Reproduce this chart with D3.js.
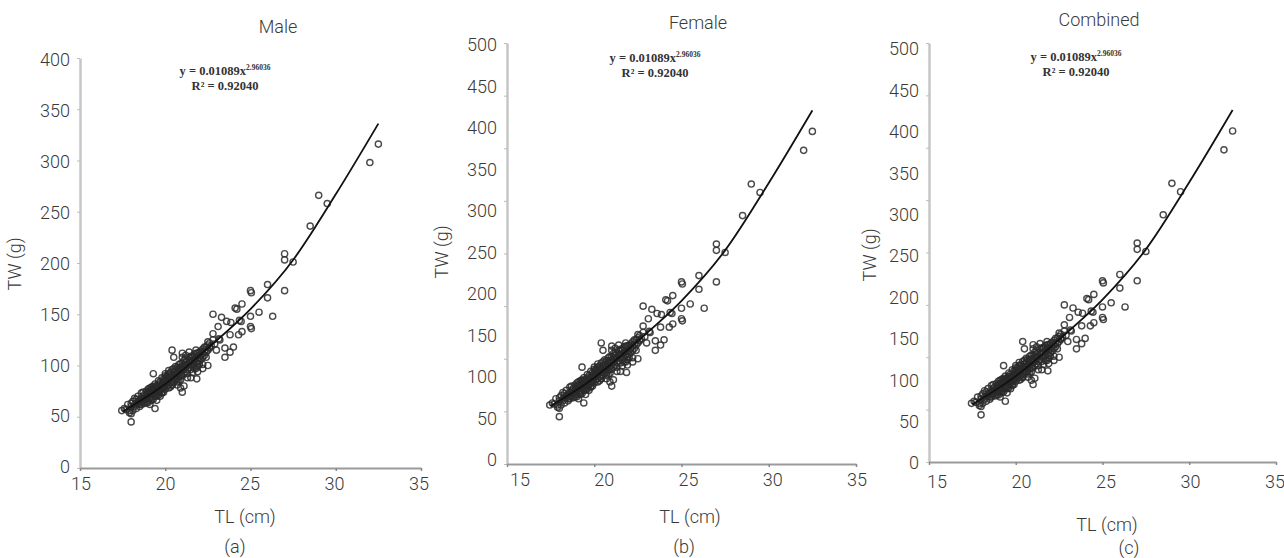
<!doctype html>
<html>
<head>
<meta charset="utf-8">
<script src="https://cdnjs.cloudflare.com/ajax/libs/d3/7.8.5/d3.min.js"></script>
<style>
body { margin: 0; background: #fff; }
svg text { font-family: Roboto, "Noto Sans", sans-serif; font-weight: 300; fill: #3a3a3a; }
svg text.eq { font-family: "Liberation Serif", "DejaVu Serif", serif; font-weight: bold; fill: #333; }
</style>
</head>
<body>
<svg id="chart" width="1284" height="558"></svg>
<script>
// total length (cm) and total weight (g) of each fish
const tlValues = [
  17.7,17.8,17.9,18.0,18.1,18.1,18.2,18.3,18.3,18.4,18.4,18.5,18.5,
  18.6,18.6,18.6,18.7,18.7,18.8,18.8,18.8,18.9,18.9,18.9,
  19.0,19.0,19.0,19.1,19.1,19.1,19.2,19.2,19.2,19.3,19.3,19.3,19.4,19.4,19.4,19.5,19.5,19.5,
  19.6,19.6,19.6,19.7,19.7,19.7,19.8,19.8,19.8,19.9,19.9,19.9,
  20.0,20.0,20.0,20.0,20.1,20.1,20.1,20.2,20.2,20.2,20.3,20.3,20.3,20.4,20.4,20.4,20.5,20.5,20.5,
  20.6,20.6,20.6,20.7,20.7,20.7,20.8,20.8,20.8,20.9,20.9,20.9,
  21.0,21.0,21.0,21.0,21.1,21.1,21.1,21.2,21.2,21.2,21.3,21.3,21.3,21.4,21.4,21.4,21.5,21.5,21.5,
  21.6,21.6,21.6,21.7,21.7,21.7,21.8,21.8,21.8,21.9,21.9,21.9,
  22.0,22.0,22.0,22.1,22.1,22.2,22.2,22.2,22.3,22.3,22.4,22.4,22.5,22.5,22.6,22.6,22.7,22.8,22.9,
  21.1,21.5,20.9,22.2,21.9,
  17.6,17.9,18.0,18.2,18.2,18.4,18.5,18.7,18.7,18.9,
  19.0,19.1,19.2,19.3,19.4,19.5,19.6,19.7,19.8,19.9,
  19.0,19.2,19.4,19.6,19.8,20.0,20.2,20.4,20.6,20.8,
  20.0,20.1,20.2,20.3,20.4,20.5,20.6,20.7,20.8,20.9,
  21.0,21.1,21.2,21.3,21.4,21.5,21.6,21.7,21.8,21.9,
  21.0,21.2,21.4,21.6,21.8,22.0,22.2,22.4,22.1,22.3,
  19.1,19.3,19.5,19.7,19.9,20.1,20.3,20.5,20.7,20.9,
  18.3,18.6,18.8,19.0,19.2,19.4,19.6,19.8,20.0,20.2,
  32.5,32.0,29.0,29.5,28.5,27.0,27.0,27.5,27.0,26.0,26.0,26.3,25.5,25.0,25.05,25.0,25.0,25.05,
  24.5,24.1,24.2,24.45,24.5,24.3,24.0,23.8,23.5,22.8,23.3,23.6,23.85,23.1,22.8,23.2,23.0,22.5,
  22.5,21.85,20.4,20.5,19.3,21.0,17.45,18.0,18.0,19.4,23.8,23.5,23.15,22.6,24.35
];
const twValues = [
  57,62,54,60,65,56,62,67,58,63,70,60,66,
  68,62,73,65,70,63,72,67,69,75,64,
  70,66,77,72,68,62,74,70,79,72,76,67,75,70,82,77,72,66,
  78,74,85,80,75,70,82,77,88,80,84,74,
  82,87,77,92,84,80,90,86,81,95,88,83,79,90,85,96,88,84,93,
  90,86,99,92,87,81,94,89,101,93,98,86,
  95,90,102,108,97,92,105,99,94,110,101,96,88,103,98,108,101,96,109,
  104,99,93,106,101,111,108,103,97,107,112,102,
  108,104,113,110,106,112,108,101,114,110,113,118,115,120,117,122,119,125,121,
  80,88,78,97,94,
  58,56,63,60,68,65,62,67,74,71,
  73,75,68,79,73,80,82,77,79,87,
  64,66,78,71,73,85,89,81,94,97,
  90,87,92,91,81,97,95,98,85,102,
  99,101,103,92,105,104,108,97,112,99,
  112,106,113,109,115,101,116,108,114,118,
  78,80,70,84,78,89,93,91,84,90,
  63,64,68,74,76,79,81,74,84,78,
  316,298,266,258,236,209,203,201,173,179,166,148,152,173,171,148,138,136,
  160,156,155,143,133,130,118,113,108,150,147,143,142,138,131,125,115,123,
  100,87,115,108,92,74,56,45,53,58,130,117,126,118,144
];

// fitted power curve
const fitTL = [17.5, 20, 22.5, 25, 27.5, 30, 32.5];
const fitTW = [55, 82, 117, 155, 203, 267, 336];

const xTicks = [15, 20, 25, 30, 35];
const yTicks = [0, 50, 100, 150, 200, 250, 300, 350, 400];
const yLabelsB = [0, 50, 100, 150, 200, 250, 300, 350, 400, 450, 500];
const titles = ["Male", "Female", "Combined"];
const captions = ["(a)", "(b)", "(c)"];
const eqLine = "y = 0.01089x";
const eqPower = "2.96036";
const r2Line = "R\u00B2 = 0.92040";

const points = tlValues.map((d, i) => ({tl: d, tw: twValues[i]}));
const fit = fitTL.map((d, i) => ({tl: d, tw: fitTW[i]}));

// layout of each panel
const panels = [
  {xr: [80, 421], yr: [468, 58], xlr: [81, 419], ylr: [467, 60], labels: yTicks, ylMax: 400,
   xly: 484, title: [278, 27], xt: [245, 517], cap: [235, 547], yt: [15, 264], eq: [225, 75]},
  {xr: [507, 856], yr: [464, 43], xlr: [520, 857], ylr: [460, 45], labels: yLabelsB, ylMax: 500,
   xly: 480, title: [698, 23], xt: [690, 517], cap: [684, 547], yt: [442, 252], eq: [655, 62]},
  {xr: [929, 1276], yr: [462, 43], xlr: [937, 1275], ylr: [463, 49], labels: yLabelsB, ylMax: 500,
   xly: 482, title: [1099, 20], xt: [1107, 525], cap: [1129, 548], yt: [870, 255], eq: [1076, 61]}
];

const svg = d3.select("#chart");

panels.forEach((p, i) => {
  const g = svg.append("g");
  const x = d3.scaleLinear().domain([15, 35]).range(p.xr);
  const y = d3.scaleLinear().domain([0, 400]).range(p.yr);
  const xl = d3.scaleLinear().domain([15, 35]).range(p.xlr);
  const yl = d3.scaleLinear().domain([0, p.ylMax]).range(p.ylr);

  // y axis line + ticks
  const ya = g.append("g")
    .attr("transform", `translate(${p.xr[0]},0)`)
    .call(d3.axisLeft(y).tickValues(yTicks).tickSize(3).tickSizeOuter(0).tickFormat(""));
  ya.select(".domain").attr("stroke", "#c6c6c6").attr("stroke-width", 2.5);
  ya.selectAll(".tick line").attr("stroke", "#bbb");

  // x axis line + ticks
  const xa = g.append("g")
    .attr("transform", `translate(0,${p.yr[0]})`)
    .call(d3.axisBottom(x).tickValues(xTicks).tickSize(3).tickSizeOuter(0).tickFormat(""));
  xa.select(".domain").attr("stroke", "#9a9a9a").attr("stroke-width", 2);
  xa.selectAll(".tick line").attr("stroke", "#888").attr("stroke-width", 1.5);

  // tick labels
  g.selectAll("text.yl").data(p.labels).enter().append("text")
    .attr("x", p.xr[0] - 10).attr("y", d => yl(d)).attr("dy", "0.35em")
    .attr("text-anchor", "end").style("font-size", "18px").text(d => d);
  g.selectAll("text.xl").data(xTicks).enter().append("text")
    .attr("x", d => xl(d)).attr("y", p.xly).attr("dy", "0.35em")
    .attr("text-anchor", "middle").style("font-size", "18px").text(d => d);

  // scatter
  g.selectAll("circle").data(points).enter().append("circle")
    .attr("cx", d => x(d.tl)).attr("cy", d => y(d.tw)).attr("r", 3.1)
    .attr("fill", "none").attr("stroke", "#2a2a2a").attr("stroke-width", 1.4)
    .attr("stroke-opacity", 0.85);

  // fitted curve
  g.append("path").datum(fit)
    .attr("d", d3.line().x(d => x(d.tl)).y(d => y(d.tw)).curve(d3.curveMonotoneX))
    .attr("fill", "none").attr("stroke", "#111").attr("stroke-width", 1.8);

  // equation
  const e = g.append("text").attr("class", "eq")
    .attr("x", p.eq[0]).attr("y", p.eq[1]).attr("text-anchor", "middle")
    .style("font-size", "12.5px");
  e.append("tspan").text(eqLine);
  e.append("tspan").attr("dy", -5).style("font-size", "7.5px").text(eqPower);
  g.append("text").attr("class", "eq")
    .attr("x", p.eq[0]).attr("y", p.eq[1] + 15).attr("text-anchor", "middle")
    .style("font-size", "12.5px").text(r2Line);

  // titles
  g.append("text").attr("x", p.title[0]).attr("y", p.title[1]).attr("dy", "0.35em")
    .attr("text-anchor", "middle").style("font-size", "18px").text(titles[i]);
  g.append("text").attr("x", p.xt[0]).attr("y", p.xt[1]).attr("dy", "0.35em")
    .attr("text-anchor", "middle").style("font-size", "18px").text("TL (cm)");
  g.append("text").attr("x", p.cap[0]).attr("y", p.cap[1]).attr("dy", "0.35em")
    .attr("text-anchor", "middle").style("font-size", "18px").text(captions[i]);
  g.append("text")
    .attr("transform", `translate(${p.yt[0]},${p.yt[1]}) rotate(-90)`)
    .attr("dy", "0.35em").attr("text-anchor", "middle")
    .style("font-size", "18px").text("TW (g)");
});
</script>
</body>
</html>
